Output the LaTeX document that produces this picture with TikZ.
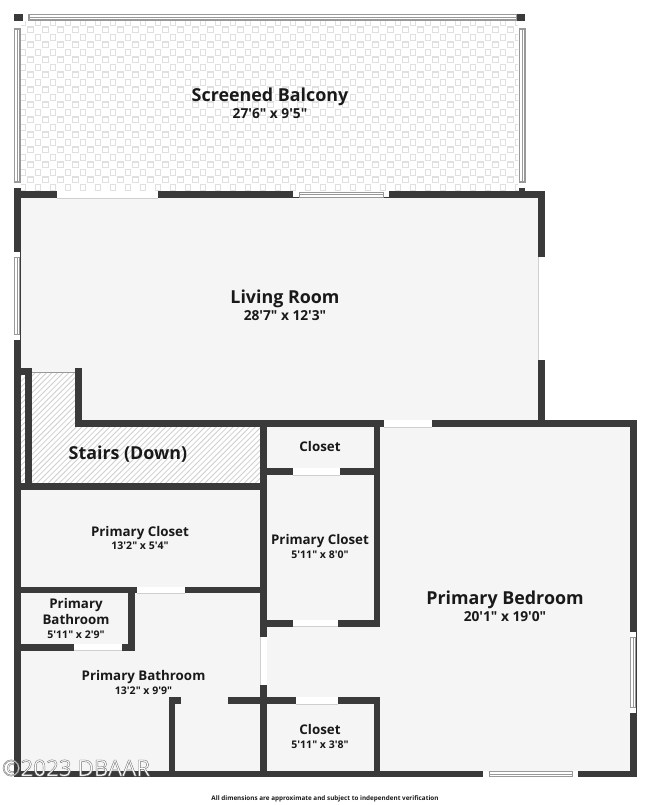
\documentclass[tikz,border=0pt]{standalone}
\usepackage{xcolor}
\usepackage{fontspec}
\usepackage{tikz}
\newfontfamily\planfont{Open Sans}
\definecolor{wallcol}{HTML}{3A3A3A}
\definecolor{floorcol}{HTML}{F5F5F5}
\definecolor{railcol}{HTML}{999999}
\definecolor{tilecol}{HTML}{E0E0E0}
\definecolor{hatchcol}{HTML}{CFCFCF}
\tikzset{
  wall/.style={fill=wallcol,draw=none},
  gap/.style={fill=white,draw=none},
  sash/.style={draw=railcol,fill=white,line width=0.9pt},
  big/.style={font=\planfont\bfseries\fontsize{13.4}{15}\selectfont,text=black!90,inner sep=0pt,anchor=base},
  bigdim/.style={font=\planfont\bfseries\fontsize{10.3}{12}\selectfont,text=black!90,inner sep=0pt,anchor=base},
  mid/.style={font=\planfont\bfseries\fontsize{10}{12}\selectfont,text=black!90,inner sep=0pt,anchor=base},
  dim/.style={font=\planfont\bfseries\fontsize{7.9}{10}\selectfont,text=black!90,inner sep=0pt,anchor=base},
}
\begin{document}
\begin{tikzpicture}[x=0.75pt,y=-0.75pt]
\useasboundingbox (0,0) rectangle (650,805);
% floors
\fill[floorcol] (14,191) rectangle (545,427);
\fill[floorcol] (14,420) rectangle (636,777);
% balcony tiles
\begin{scope}
\clip (21,21) rectangle (518,191);
\foreach \i in {0,...,67}{
  \foreach \j in {0,...,23}{
    \pgfmathparse{int(mod(\i+\j,2))}
    \ifnum\pgfmathresult=0
      \draw[tilecol,line width=0.8pt] (23+7.5*\i,22.3+7.5*\j) +(-2.8,-2.8) rectangle +(2.8,2.8);
    \fi
  }
}
\end{scope}
% stairs
\fill[white] (20,375) rectangle (25,483);
\fill[white] (31,372) -- (75,372) -- (75,427) -- (260,427) -- (260,483) -- (31,483) -- cycle;
\begin{scope}
\clip (20,375) rectangle (25,483)
      (31,372) -- (75,372) -- (75,427) -- (260,427) -- (260,483) -- (31,483) -- cycle;
\foreach \k in {0,...,65}{
  \draw[hatchcol,line width=0.6pt] (-110+5.6*\k,490) -- ++(130,-130);
}
\end{scope}
\draw[railcol,line width=0.7pt] (31,372) -- (75,372);
% balcony rails
\fill[white] (14,14) rectangle (525,21);
\fill[white] (14,14) rectangle (20,188);
\fill[white] (519,14) rectangle (525,188);
\draw[sash] (29,14.5) rectangle (517,20);
\draw[sash] (14.5,29) rectangle (20,182);
\draw[sash] (519.5,29) rectangle (525,182);
\draw[railcol,line width=0.5pt] (29,17.2) -- (517,17.2);
\draw[railcol,line width=0.5pt] (17.2,29) -- (17.2,182);
\draw[railcol,line width=0.5pt] (522.2,29) -- (522.2,182);
\fill[wall] (14,14) rectangle (22.5,21);
\fill[wall] (517,14) rectangle (525,21);
\fill[wall] (519,188) rectangle (525,191);
% walls
\fill[wall] (13.5,188) rectangle (20.5,777);
\fill[wall] (13.5,191) rectangle (545,198);
\fill[wall] (538,191) rectangle (545,427);
\fill[wall] (75,420) rectangle (636.5,427);
\fill[wall] (75,368) rectangle (81.7,427);
\fill[wall] (630,420) rectangle (636.5,777);
\fill[wall] (13.5,770.7) rectangle (636.5,777.3);
\fill[wall] (20,368.3) rectangle (31.7,375);
\fill[wall] (25,368.3) rectangle (31.7,490);
\fill[wall] (13.5,483.3) rectangle (266.5,490);
\fill[wall] (260,420) rectangle (266.5,777);
\fill[wall] (266,468.3) rectangle (380.3,475);
\fill[wall] (374,420) rectangle (380.3,626.7);
\fill[wall] (260,620) rectangle (380.3,626.7);
\fill[wall] (13.5,586.7) rectangle (266,593.3);
\fill[wall] (128.3,586.7) rectangle (135,650.7);
\fill[wall] (13.5,644.3) rectangle (135,650.7);
\fill[wall] (169,697.3) rectangle (175,771);
\fill[wall] (169,697.3) rectangle (181,704);
\fill[wall] (227.7,697.3) rectangle (380.3,704);
\fill[wall] (374,697.3) rectangle (380.3,777);
% door gaps, horizontal
\foreach \xa/\xb/\ya/\yb in {56.5/157.5/191/198, 384/432/420/427, 293.3/340/468.3/475,
    293.3/337.7/620/626.7, 137.3/185.3/586.7/593.3, 74/122.3/644.3/650.7, 296/337.7/697.3/704}{
  \fill[gap] (\xa,\ya) rectangle (\xb,\yb);
  \draw[hatchcol,line width=0.6pt] (\xa,\yb) -- (\xb,\yb);
}
% door gaps, vertical
\foreach \xa/\xb/\ya/\yb in {538.3/545/257.3/360, 260/266.5/637.3/685}{
  \fill[gap] (\xa,\ya) rectangle (\xb,\yb);
  \draw[hatchcol,line width=0.6pt] (\xa,\ya) -- (\xa,\yb);
}
% windows
\foreach \xa/\xb/\ya in {293/389/191.5, 483/578/771}{
  \fill[gap] (\xa,\ya) rectangle (\xb,\ya+6);
  \draw[railcol,line width=0.6pt] (\xa+6,\ya+0.5) rectangle (\xb-6,\ya+5.5);
  \draw[railcol,line width=0.5pt] (\xa+6,\ya+3) -- (\xb-6,\ya+3);
}
\foreach \ya/\yb/\xa in {252/340/14, 632/713/630.3}{
  \fill[gap] (\xa,\ya) rectangle (\xa+6,\yb);
  \draw[railcol,line width=0.6pt] (\xa+0.5,\ya+5.5) rectangle (\xa+5.5,\yb-5.5);
  \draw[railcol,line width=0.5pt] (\xa+3,\ya+5.5) -- (\xa+3,\yb-5.5);
}
% labels
\node[big] (balcony) at (270,102) {Screened Balcony};
\node[bigdim] (balconysize) at (270,119) {27'6" x 9'5"};
\node[big] (living) at (285,303.5) {Living Room};
\node[bigdim] (livingsize) at (285,320) {28'7" x 12'3"};
\node[big] (stairs) at (128,459) {Stairs (Down)};
\node[mid] (closeta) at (140,536) {Primary Closet};
\node[dim] (closetasize) at (140,549.3) {13'2" x 5'4"};
\node[mid] (closetb) at (320,451.7) {Closet};
\node[mid] (closetc) at (320,544.3) {Primary Closet};
\node[dim] (closetcsize) at (320,558.7) {5'11" x 8'0"};
\node[mid] (batha) at (76,608.3) {Primary};
\node[mid] (bathb) at (76,624.3) {Bathroom};
\node[dim] (bathbsize) at (76,638.3) {5'11" x 2'9"};
\node[mid] (bathc) at (143.5,680) {Primary Bathroom};
\node[dim] (bathcsize) at (143.5,694) {13'2" x 9'9"};
\node[mid] (closetd) at (320,734.3) {Closet};
\node[dim] (closetdsize) at (320,748.3) {5'11" x 3'8"};
\node[big] (bedroom) at (505,604.5) {Primary Bedroom};
\node[bigdim] (bedroomsize) at (505,621) {20'1" x 19'0"};
\node[font=\planfont\bfseries\fontsize{4.75}{6}\selectfont,text=black!90,inner sep=0pt,anchor=base] (note) at (325,800.5) {All dimensions are approximate and subject to independent verification};
\node[font=\planfont\fontsize{16.8}{18}\selectfont,inner sep=0pt,anchor=base] (mark) at (76,776) {\special{pdf:code 2 Tr 0.3 w 0.45 G 1 g}©2023 DBAAR\special{pdf:code 0 Tr}};
\end{tikzpicture}
\end{document}
